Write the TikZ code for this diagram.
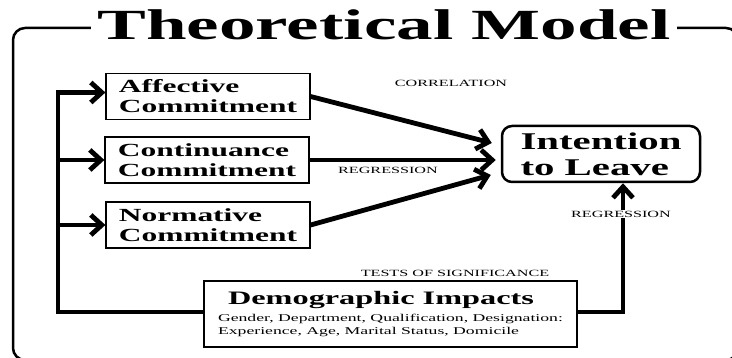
\documentclass[tikz,border=0pt]{standalone}
\usepackage{fontspec}
\setmainfont[FakeStretch=1.7]{Liberation Serif}
\usetikzlibrary{arrows.meta}

\begin{document}
\begin{tikzpicture}[x=1pt,y=-1pt,
  factor/.style={draw,line width=1.2pt,align=left,inner sep=0pt,
    minimum width=204pt,minimum height=46pt,
    font=\fontsize{18.5}{20}\selectfont\bfseries},
  outcome/.style={draw,line width=2.5pt,rounded corners=10pt,align=left,
    inner sep=0pt,minimum width=198pt,minimum height=56pt,
    font=\fontsize{24}{26}\selectfont\bfseries},
  tag/.style={inner sep=1pt,fill=white,font=\fontsize{9.5}{10}\selectfont},
  flow/.style={line width=4.8pt,-{Straight Barb[length=11pt,width=20pt]}}]
  \useasboundingbox (0,0) rectangle (732,358);
  \clip (0,0) rectangle (732,358);
  % outer frame
  \draw[line width=2.5pt,rounded corners=12pt] (13,28) rectangle (738,360);
  % heading over the frame
  \node[fill=white,inner xsep=6pt,inner ysep=2pt,anchor=base,
    font=\fontsize{43}{43}\selectfont\bfseries] (title) at (384,40) {Theoretical Model};
  % commitments
  \node[factor] (aff)  at (208,96.5) {Affective\\Commitment};
  \node[factor] (cont) at (207,160)  {Continuance\\Commitment};
  \node[factor] (norm) at (208,225)  {Normative\\Commitment};
  % outcome
  \node[outcome] (leave) at (601,154) {Intention\\to Leave};
  % demographic variables
  \node[draw,line width=1.2pt,align=left,inner sep=0pt,
    minimum width=373pt,minimum height=66pt,
    font=\fontsize{10.4}{13}\selectfont] (demo) at (390.5,314)
    {\hspace*{10pt}{\fontsize{19}{19}\selectfont\bfseries Demographic Impacts}\\[4pt]
     Gender, Department, Qualification, Designation:\\
     Experience, Age, Marital Status, Domicile};
  % arrows into the outcome
  \draw[flow] (aff.east)  -- ([shift={(-9,-11)}]leave.west);
  \draw[flow] (cont.east) -- ([shift={(-5,6)}]leave.west);
  \draw[flow] (norm.east) -- ([shift={(-10,21)}]leave.west);
  % feedback lines
  \coordinate (spine) at (58,0);
  \coordinate (afftop) at ([yshift=4pt]aff.west);
  \draw[flow] ([yshift=2pt]demo.west) -| (spine |- afftop) -- (afftop);
  \draw[flow] (spine |- cont.west) -- (cont.west);
  \draw[flow] (spine |- norm.west) -- (norm.west);
  \draw[flow] ([yshift=2pt]demo.east) -| ([xshift=22pt]leave.south);
  % method labels
  \node[tag] (corr) at (451,83)  {CORRELATION};
  \node[tag] (reg1) at (388,170) {REGRESSION};
  \node[tag] (reg2) at (621,214) {REGRESSION};
  \node[tag] (sig)  at (455,273) {TESTS OF SIGNIFICANCE};
\end{tikzpicture}
\end{document}
